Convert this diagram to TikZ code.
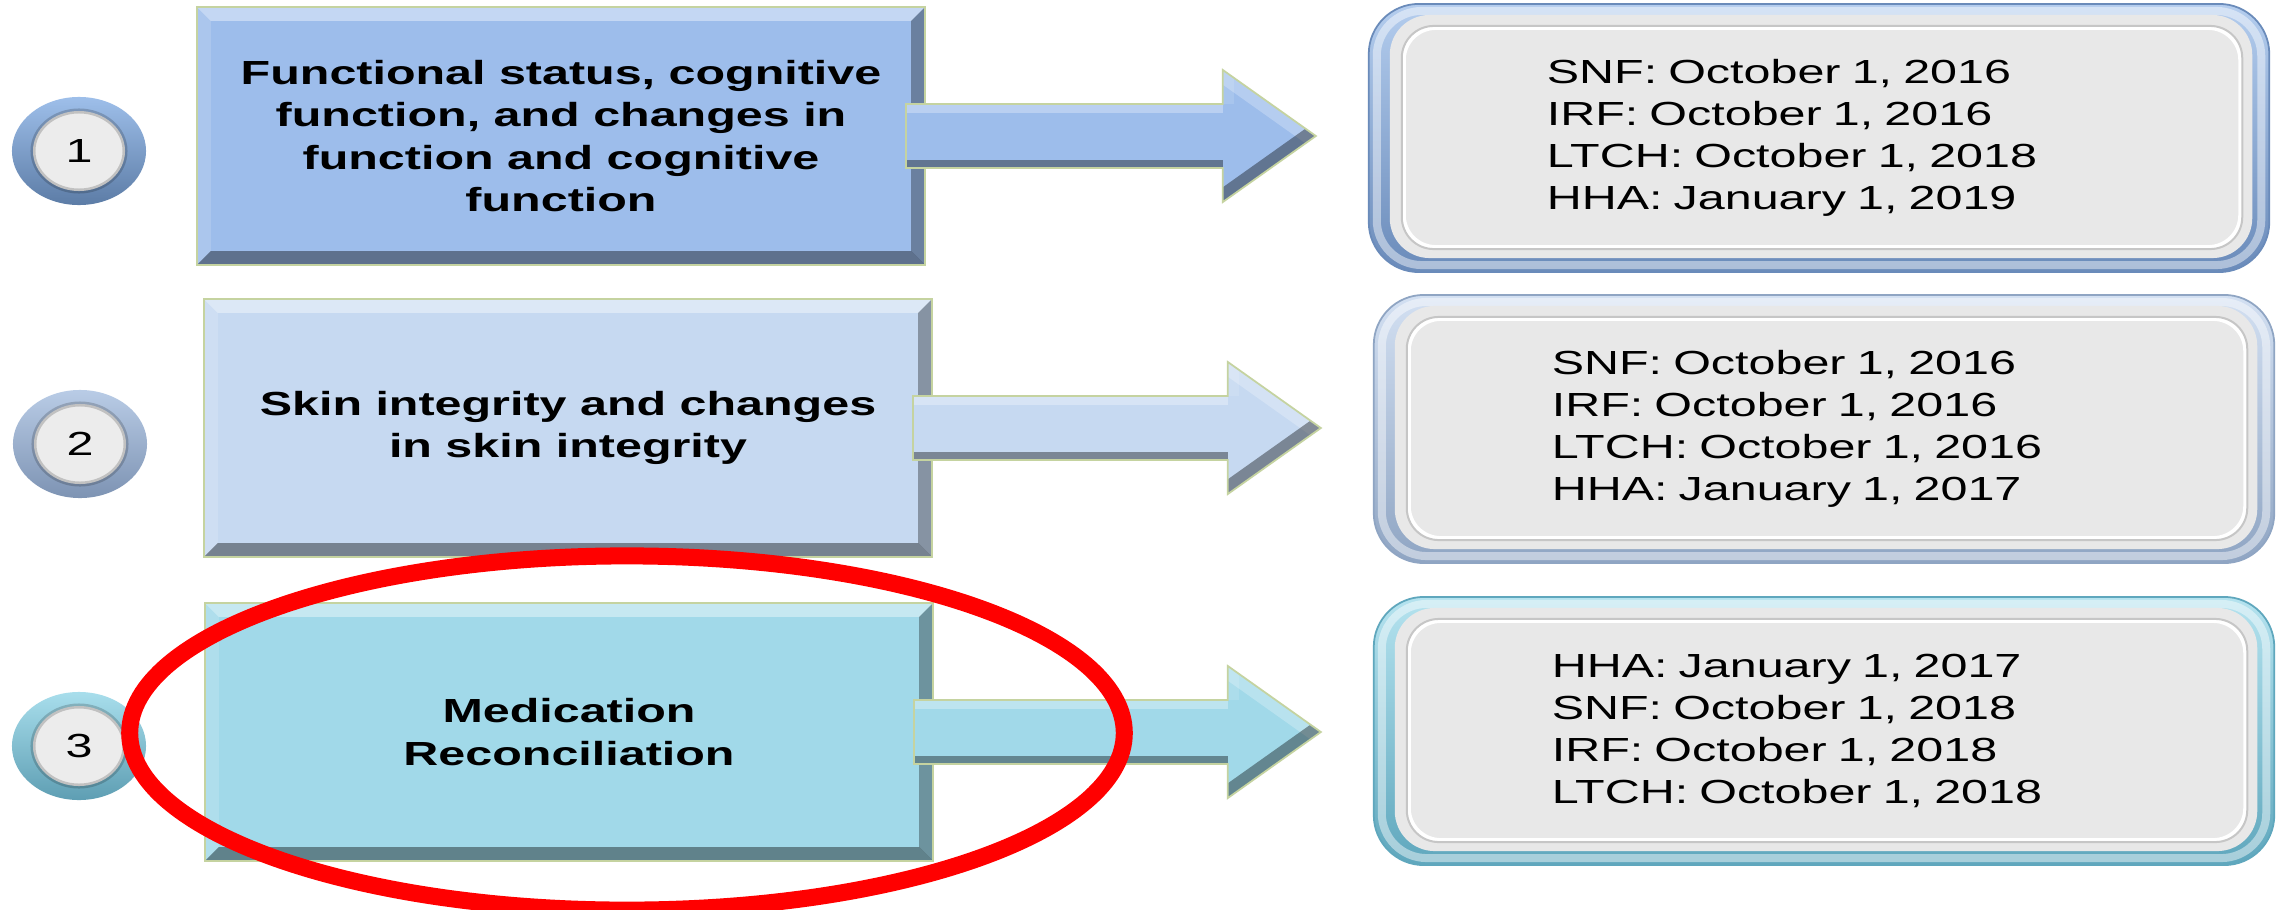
\documentclass[tikz,border=0pt]{standalone}
\usepackage{fontspec}
\setmainfont{Liberation Sans}[FakeStretch=1.45]
\usetikzlibrary{calc,shapes.geometric}

\definecolor{boxA}{HTML}{9DBDEB}
\definecolor{boxB}{HTML}{C6D9F1}
\definecolor{boxC}{HTML}{A1D9E9}
\definecolor{discA}{HTML}{9EBFEA}
\definecolor{discAd}{HTML}{5C7CA6}
\definecolor{discB}{HTML}{B9CCE6}
\definecolor{discBd}{HTML}{7D93B3}
\definecolor{discC}{HTML}{A8DEEC}
\definecolor{discCd}{HTML}{5E9EB3}
\definecolor{frameA}{HTML}{B4CDEE}
\definecolor{frameAd}{HTML}{6A8BBA}
\definecolor{frameB}{HTML}{D3E0F2}
\definecolor{frameBd}{HTML}{8FA5C3}
\definecolor{frameC}{HTML}{B5E3EF}
\definecolor{frameCd}{HTML}{5FA7BD}
\definecolor{edgeline}{HTML}{C5D3A0}

\tikzset{
  numdisc/.style 2 args={ellipse, minimum width=1.34cm, minimum height=1.08cm, inner sep=0pt,
    top color=#1, bottom color=#2, font={\fontsize{9.5pt}{10pt}\selectfont},
    path picture={
      \fill[gray!15] (path picture bounding box.center) ellipse [x radius=0.46cm, y radius=0.40cm];
      \draw[black, opacity=.18, line width=0.05cm] (path picture bounding box.center) ellipse [x radius=0.46cm, y radius=0.40cm];
    }},
  featbox/.style={rectangle, fill=#1, draw=edgeline, line width=0.5pt, minimum width=7.28cm, minimum height=2.58cm,
    align=center, font={\bfseries\fontsize{9.5pt}{12pt}\selectfont},
    path picture={
      \coordinate (bnw) at (path picture bounding box.north west);
      \coordinate (bne) at (path picture bounding box.north east);
      \coordinate (bsw) at (path picture bounding box.south west);
      \coordinate (bse) at (path picture bounding box.south east);
      \fill[white, opacity=.4] (bnw) -- (bne) -- ([shift={(-0.14cm,-0.14cm)}]bne) -- ([shift={(0.14cm,-0.14cm)}]bnw) -- cycle;
      \fill[white, opacity=.15] (bnw) -- (bsw) -- ([shift={(0.14cm,0.14cm)}]bsw) -- ([shift={(0.14cm,-0.14cm)}]bnw) -- cycle;
      \fill[black, opacity=.32] (bne) -- (bse) -- ([shift={(-0.14cm,0.14cm)}]bse) -- ([shift={(-0.14cm,-0.14cm)}]bne) -- cycle;
      \fill[black, opacity=.4] (bsw) -- (bse) -- ([shift={(-0.14cm,0.14cm)}]bse) -- ([shift={(0.14cm,0.14cm)}]bsw) -- cycle;
    }},
  datebox/.style 2 args={rectangle, rounded corners=0.5cm, minimum width=9.0cm, minimum height=2.68cm,
    top color=#1, bottom color=#2, draw=#2, line width=0.5pt, align=left, text width=5.44cm,
    font={\fontsize{9.5pt}{12pt}\selectfont},
    path picture={
      \draw[white, opacity=.45, line width=0.08cm, rounded corners=0.45cm]
        ([shift={(0.08cm,-0.07cm)}]path picture bounding box.north west) rectangle ([shift={(-0.08cm,0.07cm)}]path picture bounding box.south east);
      \fill[gray!18, rounded corners=0.4cm]
        ([shift={(0.21cm,-0.11cm)}]path picture bounding box.north west) rectangle ([shift={(-0.17cm,0.14cm)}]path picture bounding box.south east);
      \draw[white, line width=0.04cm, rounded corners=0.32cm]
        ([shift={(0.35cm,-0.24cm)}]path picture bounding box.north west) rectangle ([shift={(-0.29cm,0.25cm)}]path picture bounding box.south east);
      \draw[gray!45, line width=0.02cm, rounded corners=0.32cm]
        ([shift={(0.33cm,-0.22cm)}]path picture bounding box.north west) rectangle ([shift={(-0.27cm,0.23cm)}]path picture bounding box.south east);
    }},
  blockarrow/.style={fill=#1, draw=edgeline, line width=0.5pt,
    to path={let \p1=(\tikztostart), \p2=(\tikztotarget) in
      (\x1-0.2cm,\y1+0.32cm) -- (\x2-1.45cm,\y1+0.32cm) -- (\x2-1.45cm,\y1+0.66cm) -- (\x2-0.52cm,\y1)
      -- (\x2-1.45cm,\y1-0.66cm) -- (\x2-1.45cm,\y1-0.32cm) -- (\x1-0.2cm,\y1-0.32cm) -- cycle},
    path picture={
      \coordinate (aw) at (path picture bounding box.west);
      \coordinate (ae) at (path picture bounding box.east);
      \coordinate (an) at ([xshift=-0.93cm]path picture bounding box.north east);
      \coordinate (as) at ([xshift=-0.93cm]path picture bounding box.south east);
      \draw[white, opacity=.3, line width=0.18cm] ([yshift=0.32cm]aw) -- ([shift={(-0.93cm,0.32cm)}]ae);
      \draw[white, opacity=.25, line width=0.24cm] (an) -- (ae);
      \draw[white, opacity=.12, line width=0.22cm] (an) -- ([shift={(-0.93cm,0.32cm)}]ae);
      \draw[black, opacity=.38, line width=0.16cm] ([yshift=-0.32cm]aw) -- ([shift={(-0.93cm,-0.32cm)}]ae);
      \draw[black, opacity=.38, line width=0.24cm] (as) -- (ae);
    }},
}

\begin{document}
\begin{tikzpicture}[x=0.01cm,y=-0.01cm]
  % Canvas
  \useasboundingbox (0,0) rectangle (2282,909);
  \fill[white] (0,0) rectangle (2282,909);

  % Number discs
  \node[numdisc={discA}{discAd}] (c1) at (79,151) {1};
  \node[numdisc={discB}{discBd}] (c2) at (80,444) {2};
  \node[numdisc={discC}{discCd}] (c3) at (79,746) {3};

  % Measure boxes
  \node[featbox=boxA] (f1) at (561,136) {Functional status, cognitive\\function, and changes in\\function and cognitive\\function};
  \node[featbox=boxB] (f2) at (568,428) {Skin integrity and changes\\in skin integrity};
  \node[featbox=boxC] (f3) at (569,732) {Medication\\Reconciliation};

  % Date boxes
  \node[datebox={frameA}{frameAd}] (d1) at (1819,138) {SNF: October 1, 2016\\IRF: October 1, 2016\\LTCH: October 1, 2018\\HHA: January 1, 2019};
  \node[datebox={frameB}{frameBd}] (d2) at (1824,429) {SNF: October 1, 2016\\IRF: October 1, 2016\\LTCH: October 1, 2016\\HHA: January 1, 2017};
  \node[datebox={frameC}{frameCd}] (d3) at (1824,731) {HHA: January 1, 2017\\SNF: October 1, 2018\\IRF: October 1, 2018\\LTCH: October 1, 2018};

  % Arrows
  \draw[blockarrow=boxA] (f1.east) to (d1.west);
  \draw[blockarrow=boxB] (f2.east) to (d2.west);
  \draw[blockarrow=boxC] (f3.east) to (d3.west);

  % Highlight
  \draw[red, line width=0.17cm] (627,733) ellipse [x radius=4.97cm, y radius=1.77cm];
\end{tikzpicture}
\end{document}
